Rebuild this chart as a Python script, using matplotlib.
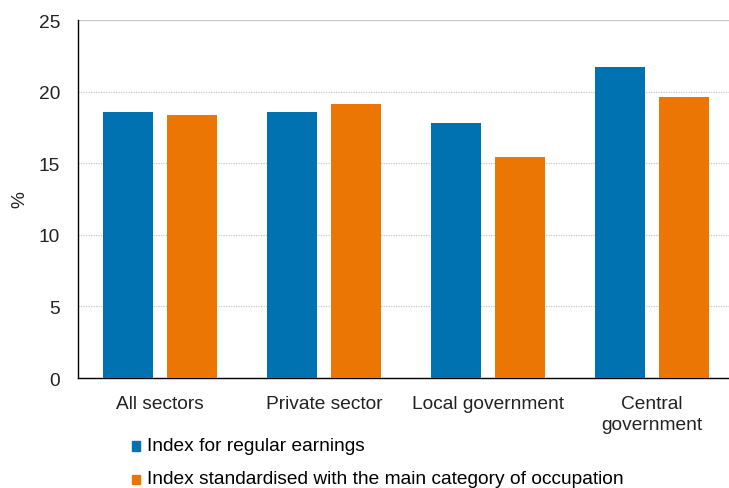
import matplotlib.pyplot as plt
import numpy as np
from matplotlib.patches import Patch, Rectangle
from matplotlib.legend_handler import HandlerPatch

plt.rcParams["font.family"] = ["Liberation Sans", "DejaVu Sans"]

categories = ["All sectors", "Private sector", "Local government", "Central\ngovernment"]
regular = [18.6, 18.6, 17.8, 21.7]
standardised = [18.4, 19.1, 15.4, 19.6]
series_names = ["Index for regular earnings",
                "Index standardised with the main category of occupation"]
yticks = [0, 5, 10, 15, 20, 25]

BLUE = "#0072b2"
ORANGE = "#eb7604"
FS = 13.8

fig = plt.figure(figsize=(7.29, 4.89), dpi=100)
ax = fig.add_axes([78 / 729, 1 - 379 / 489, (734 - 78) / 729, (379 - 21) / 489])

x = np.arange(len(categories))
w = 0.3
ax.bar(x - 0.195, regular, width=w, color=BLUE, zorder=3)
ax.bar(x + 0.195, standardised, width=w, color=ORANGE, zorder=3)

ax.set_xlim(-0.5, len(categories) - 0.5)
ax.set_ylim(0, 25)
ax.set_yticks(yticks)
ax.set_xticks(x)
ax.set_xticklabels(categories, fontsize=FS, color="#222222", linespacing=1.3)
ax.tick_params(axis="y", labelsize=FS, labelcolor="#222222", length=0, pad=13)
ax.tick_params(axis="x", length=0, pad=12.5)

for v in yticks[1:]:
    ls = "-" if v == 25 else (0, (1, 1))
    ax.axhline(v, color="#c8c8c8", linewidth=0.9, linestyle=ls, zorder=1)

for s in ["top", "right"]:
    ax.spines[s].set_visible(False)
ax.spines["left"].set_color("black")
ax.spines["bottom"].set_color("black")
ax.spines["left"].set_linewidth(1.0)
ax.spines["bottom"].set_linewidth(1.0)

ax.set_ylabel("%", fontsize=FS, color="#222222")
ax.yaxis.set_label_coords(-0.076, 0.5)


# square sitting a little lower, level with the text baseline
def low_square(legend, orig_handle, xdescent, ydescent, width, height, fontsize):
    return Rectangle((-xdescent, -ydescent - 2.2), width, height)


handles = [Patch(color=BLUE), Patch(color=ORANGE)]
fig.legend(handles, series_names, loc="upper left", bbox_to_anchor=(132 / 729, 1 - 438 / 489),
           frameon=False, fontsize=FS, handlelength=0.42, handleheight=0.42,
           handletextpad=0.35, labelspacing=0.85, borderaxespad=0, borderpad=0,
           handler_map={Patch: HandlerPatch(patch_func=low_square)})

fig.savefig("out.png", dpi=100)
